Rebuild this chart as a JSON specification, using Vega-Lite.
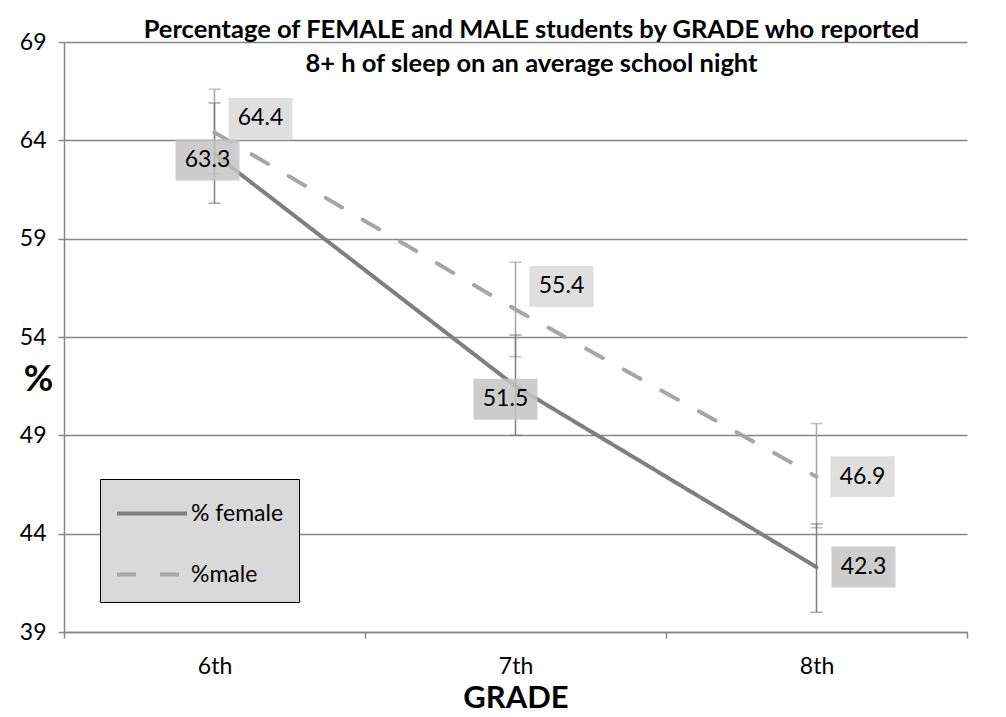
{
  "$schema": "https://vega.github.io/schema/vega-lite/v6.json",
  "width": 903,
  "height": 590,
  "autosize": {"type": "none"},
  "padding": {"left": 64, "top": 42, "right": 39, "bottom": 85},
  "background": "white",
  "title": {
    "text": ["Percentage of FEMALE and MALE students by GRADE who reported", "8+ h of sleep on an average school night"],
    "font": "Lato", "fontSize": 25.5, "fontWeight": "bold", "lineHeight": 34, "frame": "group",
    "anchor": "middle", "dx": 16, "offset": -46, "color": "black"
  },
  "config": {
    "font": "Lato",
    "view": {"stroke": null},
    "axisX": {
      "domainColor": "#868686", "domainWidth": 1.5, "tickColor": "#868686", "tickWidth": 1.5, "tickSize": 6,
      "tickBand": "extent", "labelAngle": 0, "labelFontSize": 23, "labelColor": "black", "labelPadding": 17,
      "titleFontSize": 31, "titleFontWeight": "bold", "titleColor": "black", "titlePadding": 5, "grid": false
    },
    "axisY": {
      "domainColor": "#868686", "domainWidth": 1.5, "tickColor": "#868686", "tickWidth": 1.5, "tickSize": 6,
      "gridColor": "#868686", "gridWidth": 1.5, "labelFontSize": 23, "labelColor": "black", "labelPadding": 12,
      "titleAngle": 0, "titleAlign": "center", "titleBaseline": "middle", "titleX": -26, "titleY": 337,
      "titleFontSize": 36, "titleFontWeight": "bold", "titleColor": "black"
    }
  },
  "data": {
    "values": [
      {"grade": "6th", "sex": "% female", "value": 63.3, "lo": 60.8, "hi": 65.9},
      {"grade": "7th", "sex": "% female", "value": 51.5, "lo": 49.0, "hi": 54.1},
      {"grade": "8th", "sex": "% female", "value": 42.3, "lo": 40.0, "hi": 44.5},
      {"grade": "6th", "sex": "%male", "value": 64.4, "lo": 62.3, "hi": 66.6},
      {"grade": "7th", "sex": "%male", "value": 55.4, "lo": 53.0, "hi": 57.8},
      {"grade": "8th", "sex": "%male", "value": 46.9, "lo": 44.3, "hi": 49.6}
    ]
  },
  "encoding": {
    "x": {"field": "grade", "type": "nominal", "title": "GRADE", "scale": {"paddingInner": 0, "paddingOuter": 0}}
  },
  "layer": [
    {
      "transform": [{"filter": "datum.sex == '%male'"}],
      "mark": {"type": "errorbar", "color": "#a6a6a6", "ticks": {"size": 12, "thickness": 1.5}, "rule": {"strokeWidth": 1.5}},
      "encoding": {
        "y": {"field": "lo", "type": "quantitative", "title": "%", "scale": {"domain": [39, 69], "nice": false, "zero": false}, "axis": {"values": [39, 44, 49, 54, 59, 64, 69]}},
        "y2": {"field": "hi"}
      }
    },
    {
      "transform": [{"filter": "datum.sex == '% female'"}],
      "mark": {"type": "errorbar", "color": "#7f7f7f", "ticks": {"size": 12, "thickness": 1.5}, "rule": {"strokeWidth": 1.5}},
      "encoding": {
        "y": {"field": "lo", "type": "quantitative", "title": "%", "scale": {"domain": [39, 69], "nice": false, "zero": false}, "axis": {"values": [39, 44, 49, 54, 59, 64, 69]}},
        "y2": {"field": "hi"}
      }
    },
    {
      "mark": {"type": "line", "strokeWidth": 4, "strokeCap": "round"},
      "encoding": {
        "y": {"field": "value", "type": "quantitative", "title": "%", "scale": {"domain": [39, 69], "nice": false, "zero": false}, "axis": {"values": [39, 44, 49, 54, 59, 64, 69]}},
        "color": {
          "field": "sex", "type": "nominal",
          "scale": {"domain": ["% female", "%male"], "range": ["#7f7f7f", "#a6a6a6"]},
          "legend": {
            "title": null, "orient": "none", "legendX": 36, "legendY": 437,
            "fillColor": "#d9d9d9", "strokeColor": "black", "padding": 15,
            "symbolType": "M-1,0L3,0", "symbolSize": 1225, "symbolStrokeWidth": 4,
            "labelFontSize": 23, "labelColor": "black", "labelOffset": 37, "rowPadding": 29
          }
        },
        "strokeDash": {
          "field": "sex", "type": "nominal",
          "scale": {"domain": ["% female", "%male"], "range": [[1, 0], [19, 24]]},
          "legend": {
            "title": null, "orient": "none", "legendX": 36, "legendY": 437,
            "fillColor": "#d9d9d9", "strokeColor": "black", "padding": 15,
            "symbolType": "M-1,0L3,0", "symbolSize": 1225, "symbolStrokeWidth": 4,
            "labelFontSize": 23, "labelColor": "black", "labelOffset": 37, "rowPadding": 29
          }
        }
      }
    },
    {
      "transform": [{"filter": "datum.grade == '6th' && datum.sex == '% female'"}],
      "encoding": {"y": {"field": "value", "type": "quantitative", "title": "%"}},
      "layer": [
        {"mark": {"type": "point", "shape": "M-1,-0.64L1,-0.64L1,0.64L-1,0.64Z", "size": 4096, "filled": true, "color": "#c4c4c4", "opacity": 0.85, "xOffset": -7, "yOffset": 6}},
        {"mark": {"type": "text", "fontSize": 23, "color": "black", "dx": -7, "dy": 6, "align": "center", "baseline": "middle"}, "encoding": {"text": {"field": "value", "type": "quantitative", "format": ".1f"}}}
      ]
    },
    {
      "transform": [{"filter": "datum.grade == '7th' && datum.sex == '% female'"}],
      "encoding": {"y": {"field": "value", "type": "quantitative", "title": "%"}},
      "layer": [
        {"mark": {"type": "point", "shape": "M-1,-0.64L1,-0.64L1,0.64L-1,0.64Z", "size": 4096, "filled": true, "color": "#c4c4c4", "opacity": 0.85, "xOffset": -10, "yOffset": 13}},
        {"mark": {"type": "text", "fontSize": 23, "color": "black", "dx": -10, "dy": 13, "align": "center", "baseline": "middle"}, "encoding": {"text": {"field": "value", "type": "quantitative", "format": ".1f"}}}
      ]
    },
    {
      "transform": [{"filter": "datum.grade == '8th' && datum.sex == '% female'"}],
      "encoding": {"y": {"field": "value", "type": "quantitative", "title": "%"}},
      "layer": [
        {"mark": {"type": "point", "shape": "M-1,-0.64L1,-0.64L1,0.64L-1,0.64Z", "size": 4096, "filled": true, "color": "#c4c4c4", "opacity": 0.85, "xOffset": 47, "yOffset": 0}},
        {"mark": {"type": "text", "fontSize": 23, "color": "black", "dx": 47, "dy": 0, "align": "center", "baseline": "middle"}, "encoding": {"text": {"field": "value", "type": "quantitative", "format": ".1f"}}}
      ]
    },
    {
      "transform": [{"filter": "datum.grade == '6th' && datum.sex == '%male'"}],
      "encoding": {"y": {"field": "value", "type": "quantitative", "title": "%"}},
      "layer": [
        {"mark": {"type": "point", "shape": "M-1,-0.64L1,-0.64L1,0.64L-1,0.64Z", "size": 4096, "filled": true, "color": "#d9d9d9", "opacity": 0.85, "xOffset": 46, "yOffset": -14}},
        {"mark": {"type": "text", "fontSize": 23, "color": "black", "dx": 46, "dy": -14, "align": "center", "baseline": "middle"}, "encoding": {"text": {"field": "value", "type": "quantitative", "format": ".1f"}}}
      ]
    },
    {
      "transform": [{"filter": "datum.grade == '7th' && datum.sex == '%male'"}],
      "encoding": {"y": {"field": "value", "type": "quantitative", "title": "%"}},
      "layer": [
        {"mark": {"type": "point", "shape": "M-1,-0.64L1,-0.64L1,0.64L-1,0.64Z", "size": 4096, "filled": true, "color": "#d9d9d9", "opacity": 0.85, "xOffset": 46, "yOffset": -23}},
        {"mark": {"type": "text", "fontSize": 23, "color": "black", "dx": 46, "dy": -23, "align": "center", "baseline": "middle"}, "encoding": {"text": {"field": "value", "type": "quantitative", "format": ".1f"}}}
      ]
    },
    {
      "transform": [{"filter": "datum.grade == '8th' && datum.sex == '%male'"}],
      "encoding": {"y": {"field": "value", "type": "quantitative", "title": "%"}},
      "layer": [
        {"mark": {"type": "point", "shape": "M-1,-0.64L1,-0.64L1,0.64L-1,0.64Z", "size": 4096, "filled": true, "color": "#d9d9d9", "opacity": 0.85, "xOffset": 46, "yOffset": 0}},
        {"mark": {"type": "text", "fontSize": 23, "color": "black", "dx": 46, "dy": 0, "align": "center", "baseline": "middle"}, "encoding": {"text": {"field": "value", "type": "quantitative", "format": ".1f"}}}
      ]
    }
  ]
}
